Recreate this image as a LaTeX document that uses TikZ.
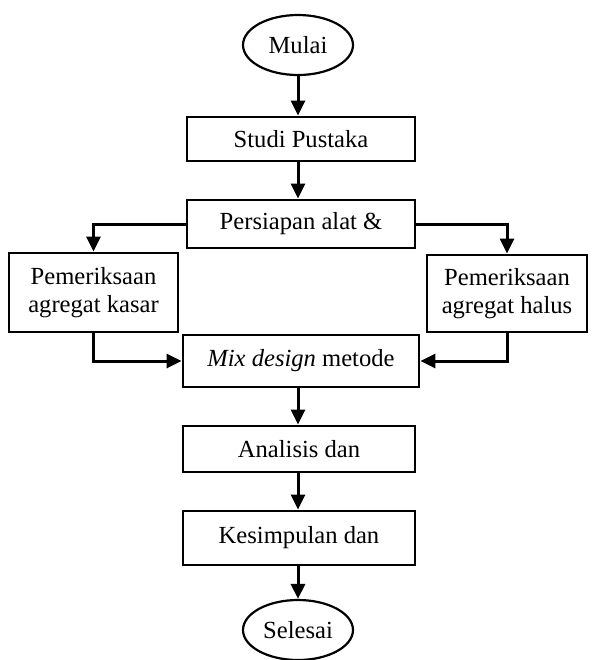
\documentclass[tikz,border=0pt]{standalone}
\usepackage{fontspec}
\setmainfont{Liberation Serif}
\usetikzlibrary{positioning,shapes.geometric,arrows.meta}

\begin{document}
\begin{tikzpicture}[x=0.5pt,y=-0.5pt,
    box/.style={rectangle, draw, line width=1.4pt, align=center, inner sep=1pt,
        font=\fontsize{12.3}{14}\selectfont},
    oval/.style={ellipse, draw, line width=1.1pt, minimum width=55pt, minimum height=30pt,
        inner sep=0pt, font=\fontsize{12.3}{14}\selectfont},
    arr/.style={line width=1.5pt, -{Triangle[width=7pt,length=7.5pt]}}]
        \useasboundingbox (0,0) rectangle (592,660);
        % Nodes
        \node (mulai) at (298,45) [oval] {Mulai};
        \node (studi) at (301,139) [box, minimum width=114pt, minimum height=22pt] {Studi Pustaka};
        \node (persiapan) at (301,224) [box, minimum width=114pt, minimum height=24pt] {Persiapan alat \&};
        \node (kasar) at (93.5,292.5) [box, minimum width=84.5pt, minimum height=39.5pt] {Pemeriksaan\\agregat kasar};
        \node (halus) at (507,293.5) [box, minimum width=80pt, minimum height=38.5pt] {Pemeriksaan\\agregat halus};
        \node (mix) at (301,361) [box, minimum width=118pt, minimum height=26pt] {\textit{Mix design} metode};
        \node (analisis) at (299,449) [box, minimum width=116pt, minimum height=23pt] {Analisis dan};
        \node (kesimpulan) at (299,538) [box, minimum width=116pt, minimum height=27pt] {Kesimpulan dan};
        \node (selesai) at (298,630) [oval] {Selesai};

        % Edges
        \draw[arr] (mulai.south) -- (mulai.south |- studi.north);
        \draw[arr] (studi.south -| mulai.south) -- (persiapan.north -| mulai.south);
        \draw[arr] (persiapan.west) -| (kasar.north);
        \draw[arr] (persiapan.east) -| (halus.north);
        \draw[arr] (kasar.south) |- (mix.west);
        \draw[arr] (halus.south) |- (mix.east);
        \foreach \a/\b in {mix/analisis, analisis/kesimpulan, kesimpulan/selesai} {
            \draw[arr] (\a.south -| mulai.south) -- (\b.north -| mulai.south);
        }
    \end{tikzpicture}
\end{document}
